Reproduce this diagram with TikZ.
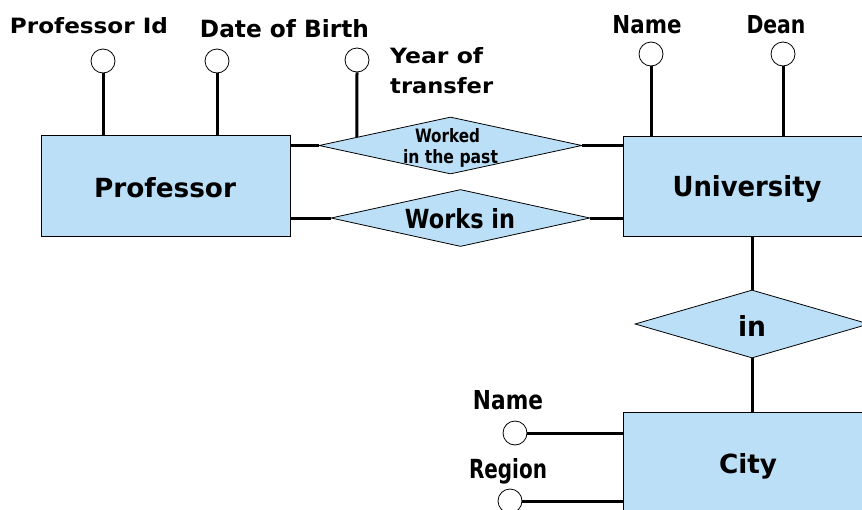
\documentclass[tikz,border=0pt]{standalone}
\usepackage{fontspec}
\setmainfont{DejaVu Sans}
\usetikzlibrary{shapes.geometric,calc}
\definecolor{erblue}{RGB}{187,223,247}
% bold label scaled to a given width and height above the baseline (in pt)
\newcommand\fitw[3]{\resizebox{#1pt}{#2pt}{\bfseries #3}}
\begin{document}
\begin{tikzpicture}[x=1pt,y=-1pt,
  entity/.style={rectangle,draw,line width=0.8pt,fill=erblue,inner sep=0pt},
  rel/.style={diamond,draw,line width=0.8pt,fill=erblue,inner sep=0pt},
  attr/.style={circle,draw,line width=0.8pt,fill=white,minimum size=24pt,inner sep=0pt},
  lbl/.style={inner sep=0pt,anchor=base},
  link/.style={line width=3pt}]
\useasboundingbox (0,0) rectangle (862,509);
\clip (0,0) rectangle (862,509);

% entities
\node[entity,minimum width=249pt,minimum height=101pt] (prof) at (165.5,186) {};
\node[entity,minimum width=248pt,minimum height=100pt] (univ) at (747,186) {};
\node[entity,minimum width=248pt,minimum height=100pt] (city) at (747,462) {};

% relationships
\node[rel,minimum width=263pt,minimum height=57pt] (past) at (450.5,145.5) {};
\node[rel,minimum width=259pt,minimum height=57pt] (works) at (460.5,218) {};
\node[rel,minimum width=234pt,minimum height=68pt] (in) at (752,324) {};

% names inside the shapes
\node[lbl] (tprof) at (165,197) {\fitw{142}{20}{Professor}};
\node[lbl] (tuniv) at (747,196) {\fitw{149}{21}{University}};
\node[lbl] (tcity) at (748,473) {\fitw{58}{20}{City}};
\node[lbl] (tpastA) at (447.5,142) {\fitw{65}{14}{Worked}};
\node[lbl] (tpastB) at (450.5,163) {\fitw{95}{14}{in the past}};
\node[lbl] (tworks) at (460,228) {\fitw{110}{20}{Works in}};
\node[lbl] (tin) at (752,336) {\fitw{28}{21}{in}};

% attributes
\node[attr] (pid) at (103,61) {};
\node[attr] (dob) at (217,61) {};
\node[attr] (yot) at (357,60) {};
\node[attr] (uname) at (651,54) {};
\node[attr] (dean) at (783,54) {};
\node[attr] (cname) at (515,433) {};
\node[attr] (region) at (510,501) {};

% attribute labels
\node[lbl] (lpid) at (89,33) {\fitw{158}{16}{Professor Id}};
\node[lbl] (ldob) at (284.5,37) {\fitw{169}{18}{Date of Birth}};
\node[lbl,anchor=base west] (lyot1) at (390,63) {\fitw{93}{16}{Year of}};
\node[lbl,anchor=base west] (lyot2) at (390,93) {\fitw{103}{16}{transfer}};
\node[lbl] (luname) at (647,33) {\fitw{69}{18}{Name}};
\node[lbl] (ldean) at (776,33) {\fitw{59}{18}{Dean}};
\node[lbl] (lcname) at (508,409) {\fitw{70}{19}{Name}};
\node[lbl] (lregion) at (508,478) {\fitw{78}{20}{Region}};

% connectors
\draw[link] (pid.south) -- (pid.south |- prof.north);
\draw[link] (dob.south) -- (dob.south |- prof.north);
\draw[link] (yot.south) -- ($(past.west)!0.29!(past.north)$);
\draw[link] (uname.south) -- (uname.south |- univ.north);
\draw[link] (dean.south) -- (dean.south |- univ.north);
\draw[link] (cname.east) -- (cname.east -| city.west);
\draw[link] (region.east) -- (region.east -| city.west);
\draw[link] (prof.east |- past.west) -- (past.west);
\draw[link] (past.east) -- (past.east -| univ.west);
\draw[link] (prof.east |- works.west) -- (works.west);
\draw[link] (works.east) -- (works.east -| univ.west);
\draw[link] (univ.south -| in.north) -- (in.north);
\draw[link] (in.south) -- (in.south |- city.north);
\end{tikzpicture}
\end{document}
